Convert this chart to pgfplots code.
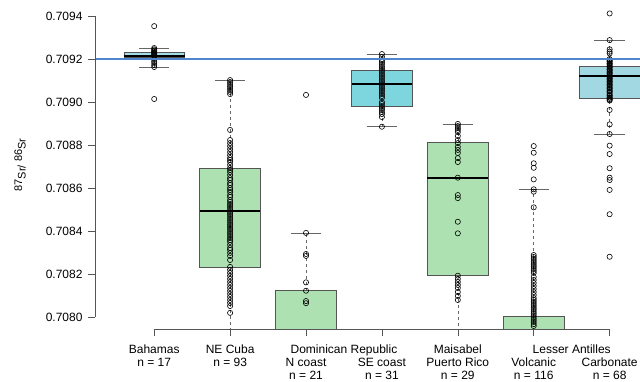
\documentclass[border=0pt]{standalone}
\usepackage{pgfplots}
\pgfplotsset{compat=1.18}
\usepackage{fontspec}
\setmainfont{Liberation Sans}
\definecolor{cyanA}{HTML}{A3DDE5}
\definecolor{cyanB}{HTML}{7DD5DE}
\definecolor{cyanC}{HTML}{A2D8E2}
\definecolor{greenA}{HTML}{AEE1B1}
\definecolor{boxedge}{HTML}{555555}
\definecolor{whiskcol}{HTML}{666666}
\definecolor{axiscol}{HTML}{555555}
\definecolor{refblue}{HTML}{4F86CF}
\begin{document}
\begin{tikzpicture}
\begin{axis}[
  name=ax, at={(0pt,0pt)}, anchor=south west,
  scale only axis, width=545pt, height=325pt,
  xmin=0.22, xmax=7.4, ymin=0.707944, ymax=0.709456,
  clip mode=individual,
  axis line style={draw=none},
  xtick={1,2,3,4,5,6,7}, xticklabels={},
  ytick={0.7080,0.7082,0.7084,0.7086,0.7088,0.7090,0.7092,0.7094},
  scaled y ticks=false,
  yticklabel style={/pgf/number format/fixed, /pgf/number format/fixed zerofill, /pgf/number format/precision=4, /pgf/number format/assume math mode=true, font=\fontsize{12}{14}\selectfont, xshift=-2pt},
  xtick pos=bottom, ytick pos=left,
  tick align=outside, major tick length=7pt,
  tick style={axiscol, line width=0.6pt},
  whisk/.style={whiskcol, line width=0.6pt, dash pattern=on 3pt off 3pt},
  cap/.style={whiskcol, line width=0.6pt},
  bx/.style={draw=boxedge, line width=0.6pt},
  med/.style={black, line width=1.8pt},
]
% whiskers (dashed)
\addplot[whisk] coordinates {(1,0.709163) (1,0.709209)};
\addplot[whisk] coordinates {(1,0.709233) (1,0.709251)};
\addplot[whisk] coordinates {(2,0.707880) (2,0.708233)};
\addplot[whisk] coordinates {(2,0.708693) (2,0.709102)};
\addplot[whisk] coordinates {(3,0.708122) (3,0.708391)};
\addplot[whisk] coordinates {(4,0.708885) (4,0.708981)};
\addplot[whisk] coordinates {(4,0.709149) (4,0.709223)};
\addplot[whisk] coordinates {(5,0.707900) (5,0.708192)};
\addplot[whisk] coordinates {(5,0.708812) (5,0.708898)};
\addplot[whisk] coordinates {(6,0.708001) (6,0.708594)};
\addplot[whisk] coordinates {(7,0.708851) (7,0.709019)};
\addplot[whisk] coordinates {(7,0.709164) (7,0.709288)};
% whisker caps
\addplot[cap] coordinates {(0.8,0.709163) (1.2,0.709163)};
\addplot[cap] coordinates {(0.8,0.709251) (1.2,0.709251)};
\addplot[cap] coordinates {(1.8,0.709102) (2.2,0.709102)};
\addplot[cap] coordinates {(2.8,0.708391) (3.2,0.708391)};
\addplot[cap] coordinates {(3.8,0.708885) (4.2,0.708885)};
\addplot[cap] coordinates {(3.8,0.709223) (4.2,0.709223)};
\addplot[cap] coordinates {(4.8,0.708898) (5.2,0.708898)};
\addplot[cap] coordinates {(5.8,0.708594) (6.2,0.708594)};
\addplot[cap] coordinates {(6.8,0.708851) (7.2,0.708851)};
\addplot[cap] coordinates {(6.8,0.709288) (7.2,0.709288)};
% boxes (lower quartile to upper quartile)
\addplot[bx, fill=cyanA] coordinates {(0.6,0.709209) (1.4,0.709209) (1.4,0.709233) (0.6,0.709233)} -- cycle;
\addplot[bx, fill=greenA] coordinates {(1.6,0.708233) (2.4,0.708233) (2.4,0.708693) (1.6,0.708693)} -- cycle;
\addplot[bx, fill=greenA] coordinates {(2.6,0.707800) (3.4,0.707800) (3.4,0.708122) (2.6,0.708122)} -- cycle;
\addplot[bx, fill=cyanB] coordinates {(3.6,0.708981) (4.4,0.708981) (4.4,0.709149) (3.6,0.709149)} -- cycle;
\addplot[bx, fill=greenA] coordinates {(4.6,0.708192) (5.4,0.708192) (5.4,0.708812) (4.6,0.708812)} -- cycle;
\addplot[bx, fill=greenA] coordinates {(5.6,0.707700) (6.4,0.707700) (6.4,0.708001) (5.6,0.708001)} -- cycle;
\addplot[bx, fill=cyanC] coordinates {(6.6,0.709019) (7.5,0.709019) (7.5,0.709164) (6.6,0.709164)} -- cycle;
% medians
\addplot[med] coordinates {(0.6,0.709214) (1.4,0.709214)};
\addplot[med] coordinates {(1.6,0.708493) (2.4,0.708493)};
\addplot[med] coordinates {(2.6,0.707900) (3.4,0.707900)};
\addplot[med] coordinates {(3.6,0.709082) (4.4,0.709082)};
\addplot[med] coordinates {(4.6,0.708648) (5.4,0.708648)};
\addplot[med] coordinates {(5.6,0.707850) (6.4,0.707850)};
\addplot[med] coordinates {(6.6,0.709121) (7.5,0.709121)};

% individual samples
\addplot[only marks, mark=o, mark size=2.6pt, mark options={black, line width=0.6pt}] table {
x y
1 0.709353
1 0.709251
1 0.709245
1 0.709240
1 0.709236
1 0.709232
1 0.709228
1 0.709224
1 0.709220
1 0.709216
1 0.709212
1 0.709200
1 0.709190
1 0.709182
1 0.709172
1 0.709163
1 0.709014
2 0.709102
2 0.709093
2 0.709084
2 0.709074
2 0.709065
2 0.709056
2 0.709047
2 0.709037
2 0.708870
2 0.708823
2 0.708809
2 0.708795
2 0.708781
2 0.708767
2 0.708753
2 0.708739
2 0.708730
2 0.708721
2 0.708707
2 0.708693
2 0.708684
2 0.708674
2 0.708660
2 0.708646
2 0.708637
2 0.708623
2 0.708614
2 0.708600
2 0.708591
2 0.708581
2 0.708567
2 0.708558
2 0.708544
2 0.708535
2 0.708525
2 0.708516
2 0.708507
2 0.708498
2 0.708488
2 0.708479
2 0.708470
2 0.708460
2 0.708451
2 0.708442
2 0.708432
2 0.708423
2 0.708414
2 0.708405
2 0.708395
2 0.708386
2 0.708377
2 0.708367
2 0.708358
2 0.708349
2 0.708335
2 0.708321
2 0.708312
2 0.708298
2 0.708284
2 0.708265
2 0.708233
2 0.708219
2 0.708205
2 0.708191
2 0.708177
2 0.708163
2 0.708149
2 0.708135
2 0.708121
2 0.708107
2 0.708093
2 0.708079
2 0.708065
2 0.708051
2 0.708019
3 0.709033
3 0.708391
3 0.708293
3 0.708284
3 0.708161
3 0.708122
3 0.708074
3 0.708064
4 0.709223
4 0.709210
4 0.709195
4 0.709186
4 0.709177
4 0.709167
4 0.709158
4 0.709149
4 0.709140
4 0.709130
4 0.709121
4 0.709112
4 0.709102
4 0.709093
4 0.709084
4 0.709074
4 0.709065
4 0.709056
4 0.709047
4 0.709037
4 0.709028
4 0.709019
4 0.709000
4 0.708991
4 0.708981
4 0.708972
4 0.708963
4 0.708953
4 0.708944
4 0.708930
4 0.708885
5 0.708898
5 0.708888
5 0.708879
5 0.708870
5 0.708860
5 0.708842
5 0.708823
5 0.708809
5 0.708791
5 0.708777
5 0.708763
5 0.708739
5 0.708721
5 0.708648
5 0.708567
5 0.708553
5 0.708443
5 0.708389
5 0.708192
5 0.708177
5 0.708163
5 0.708149
5 0.708135
5 0.708116
5 0.708098
5 0.708079
6 0.708795
6 0.708764
6 0.708715
6 0.708694
6 0.708640
6 0.708594
6 0.708583
6 0.708510
6 0.708288
6 0.708279
6 0.708270
6 0.708260
6 0.708251
6 0.708242
6 0.708233
6 0.708223
6 0.708214
6 0.708205
6 0.708186
6 0.708172
6 0.708158
6 0.708144
6 0.708130
6 0.708116
6 0.708102
6 0.708088
6 0.708079
6 0.708070
6 0.708060
6 0.708051
6 0.708042
6 0.708033
6 0.708023
6 0.708014
6 0.708005
6 0.707995
6 0.707986
6 0.707977
6 0.707967
6 0.707958
7 0.709412
7 0.709288
7 0.709245
7 0.709234
7 0.709226
7 0.709200
7 0.709195
7 0.709190
7 0.709188
7 0.709181
7 0.709178
7 0.709174
7 0.709167
7 0.709165
7 0.709160
7 0.709153
7 0.709150
7 0.709146
7 0.709140
7 0.709135
7 0.709133
7 0.709126
7 0.709121
7 0.709119
7 0.709112
7 0.709110
7 0.709105
7 0.709098
7 0.709095
7 0.709091
7 0.709084
7 0.709080
7 0.709077
7 0.709070
7 0.709065
7 0.709063
7 0.709056
7 0.709050
7 0.709049
7 0.709042
7 0.709035
7 0.709030
7 0.709028
7 0.709021
7 0.709020
7 0.709014
7 0.709010
7 0.709007
7 0.708963
7 0.708896
7 0.708851
7 0.708797
7 0.708758
7 0.708692
7 0.708648
7 0.708637
7 0.708591
7 0.708478
7 0.708280
};

% reference seawater line
\addplot[refblue, line width=2.7pt] coordinates {(0.22,0.7092) (7.4,0.7092)};

% R-style axis lines
\draw[axiscol, line width=0.6pt] (axis cs:0.22,0.7080) -- (axis cs:0.22,0.7094);
\draw[axiscol, line width=0.6pt] (axis cs:1,0.707944) -- (axis cs:7,0.707944);

% category labels
\begin{scope}[every node/.style={font=\fontsize{12}{14}\selectfont, anchor=base, inner sep=0pt}]
\node[yshift=-25pt] at (axis cs:1,0.707944) {Bahamas};
\node[yshift=-38pt] at (axis cs:1,0.707944) {n = 17};
\node[yshift=-25pt] at (axis cs:2,0.707944) {NE Cuba};
\node[yshift=-38pt] at (axis cs:2,0.707944) {n = 93};
\node[yshift=-25pt] at (axis cs:3.5,0.707944) {Dominican Republic};
\node[yshift=-38pt] at (axis cs:3,0.707944) {N coast};
\node[yshift=-51pt] at (axis cs:3,0.707944) {n = 21};
\node[yshift=-38pt] at (axis cs:4,0.707944) {SE coast};
\node[yshift=-51pt] at (axis cs:4,0.707944) {n = 31};
\node[yshift=-25pt] at (axis cs:5,0.707944) {Maisabel};
\node[yshift=-38pt] at (axis cs:5,0.707944) {Puerto Rico};
\node[yshift=-51pt] at (axis cs:5,0.707944) {n = 29};
\node[yshift=-25pt] at (axis cs:6.5,0.707944) {Lesser Antilles};
\node[yshift=-38pt] at (axis cs:6,0.707944) {Volcanic};
\node[yshift=-51pt] at (axis cs:6,0.707944) {n = 116};
\node[yshift=-38pt] at (axis cs:7,0.707944) {Carbonate};
\node[yshift=-51pt] at (axis cs:7,0.707944) {n = 68};
\end{scope}
\node[xshift=-75pt, rotate=90, font=\fontsize{11}{13}\selectfont, inner sep=0pt] at (axis cs:0.22,0.708707) {87\raisebox{-3.5pt}{Sr/} 86\raisebox{-3.5pt}{Sr}};
\end{axis}
\pgfresetboundingbox
\useasboundingbox ([xshift=-95pt,yshift=-53pt]ax.south west) rectangle ([yshift=4pt]ax.north east);
\end{tikzpicture}
\end{document}
